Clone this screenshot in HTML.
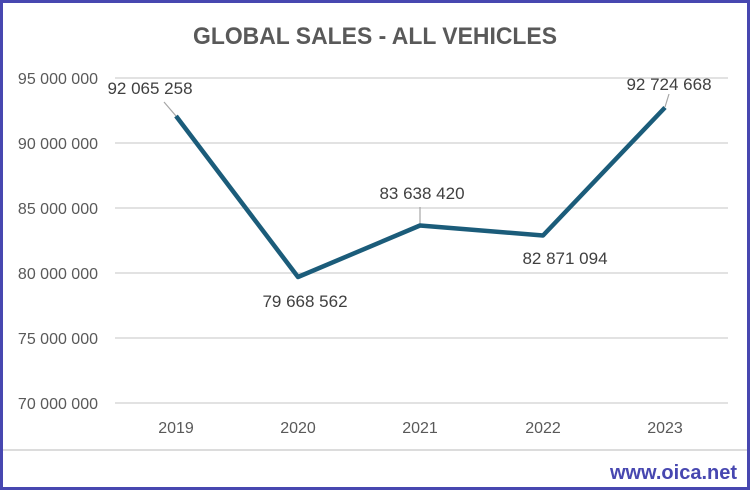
<!DOCTYPE html>
<html><head><style>
body{margin:0;background:#fff}
svg{display:block}
text{font-family:"Liberation Sans",sans-serif}
</style></head><body>
<svg width="752" height="493" viewBox="0 0 752 493" xmlns="http://www.w3.org/2000/svg">
<rect x="0" y="0" width="752" height="493" fill="#fff"/>
<rect x="1.5" y="1.5" width="747" height="487" fill="none" stroke="#4747b0" stroke-width="3"/>
<line x1="3" y1="450" x2="747" y2="450" stroke="#d0d0d0" stroke-width="1.5"/>
<text x="375" y="44" text-anchor="middle" font-size="24" font-weight="bold" fill="#595959" textLength="364" lengthAdjust="spacingAndGlyphs">GLOBAL SALES - ALL VEHICLES</text>
<g stroke="#d9d9d9" stroke-width="1.5">
<line x1="115" y1="78" x2="728" y2="78"/>
<line x1="115" y1="143" x2="728" y2="143"/>
<line x1="115" y1="208" x2="728" y2="208"/>
<line x1="115" y1="273" x2="728" y2="273"/>
<line x1="115" y1="338" x2="728" y2="338"/>
<line x1="115" y1="403" x2="728" y2="403"/>
</g>
<g font-size="16" fill="#595959" text-anchor="end">
<text x="98" y="84">95 000 000</text>
<text x="98" y="149">90 000 000</text>
<text x="98" y="214">85 000 000</text>
<text x="98" y="279">80 000 000</text>
<text x="98" y="344">75 000 000</text>
<text x="98" y="409">70 000 000</text>
</g>
<g font-size="16" fill="#595959" text-anchor="middle">
<text x="176" y="433">2019</text>
<text x="298" y="433">2020</text>
<text x="420" y="433">2021</text>
<text x="543" y="433">2022</text>
<text x="665" y="433">2023</text>
</g>
<g stroke="#a6a6a6" stroke-width="1.2">
<line x1="164" y1="102" x2="176" y2="116"/>
<line x1="420" y1="207" x2="420" y2="225"/>
<line x1="669" y1="94" x2="665" y2="107"/>
</g>
<polyline points="176,116 298,277 420,225.5 543,235.5 665,107.5" fill="none" stroke="#1b5c7a" stroke-width="4.5" stroke-linejoin="round"/>
<g font-size="17" fill="#404040" text-anchor="middle">
<text x="150" y="94">92 065 258</text>
<text x="305" y="307">79 668 562</text>
<text x="422" y="199">83 638 420</text>
<text x="565" y="264">82 871 094</text>
<text x="669" y="90">92 724 668</text>
</g>
<text x="737" y="479" text-anchor="end" font-size="20" font-weight="bold" fill="#4747b0">www.oica.net</text>
</svg>
</body></html>
